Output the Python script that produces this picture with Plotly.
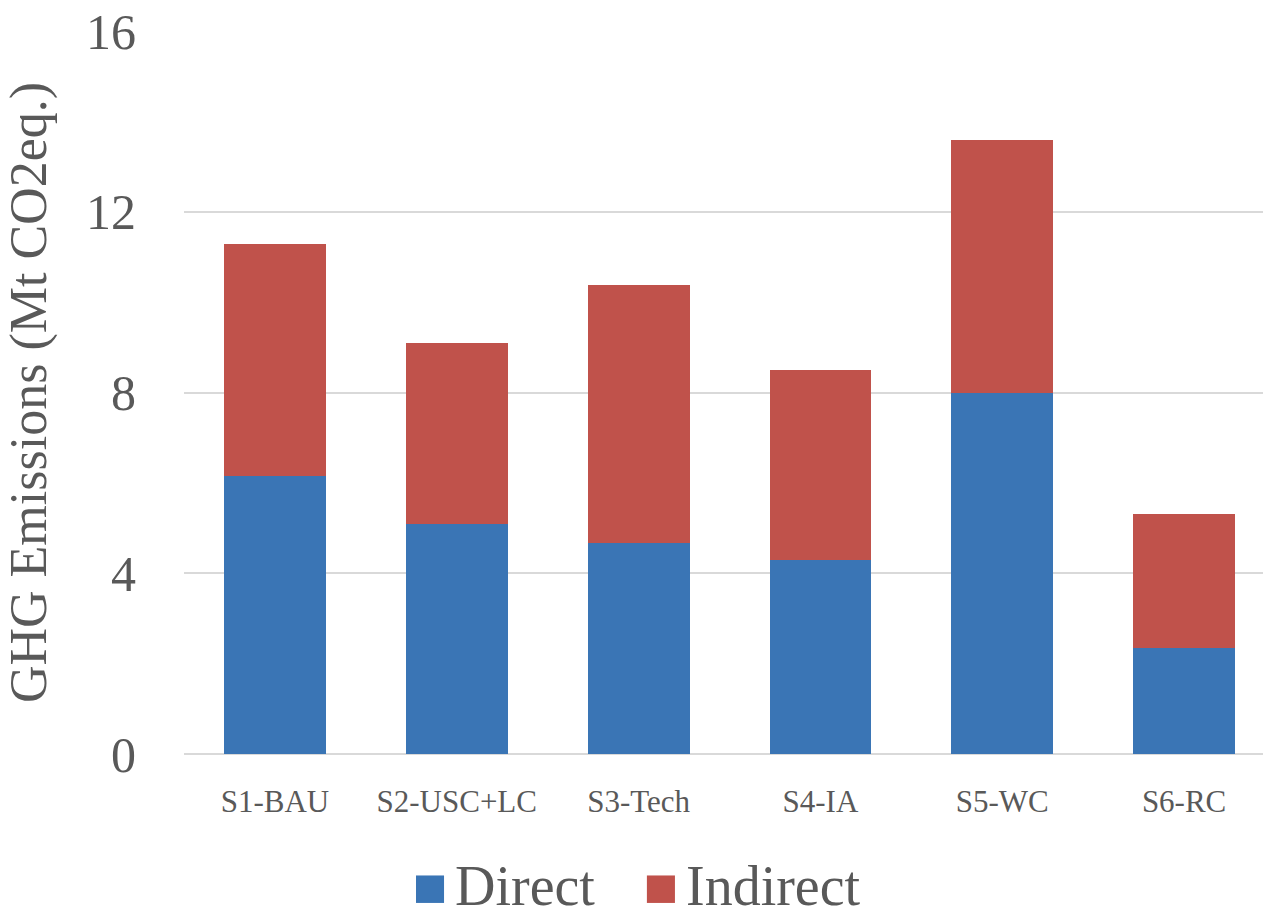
import plotly.graph_objects as go

scenarios = ["S1-BAU", "S2-USC+LC", "S3-Tech", "S4-IA", "S5-WC", "S6-RC"]
direct = [6.15, 5.10, 4.67, 4.30, 8.00, 2.35]
indirect = [5.14, 3.99, 5.71, 4.19, 5.58, 2.96]
y_ticks = [0, 4, 8, 12, 16]

BLUE = "#3A75B5"
RED = "#C0524B"
GRID = "#D9D9D9"
TEXT = "#595959"
FONT = "Liberation Serif"

fig = go.Figure()
fig.add_trace(go.Bar(x=scenarios, y=direct, name="Direct", marker_color=BLUE,
                     marker_line_width=0, showlegend=False))
fig.add_trace(go.Bar(x=scenarios, y=indirect, name="Indirect", marker_color=RED,
                     marker_line_width=0, showlegend=False))

# legend drawn as swatches + labels so the squares can be large
legend_items = [("Direct", BLUE, 0.215), ("Indirect", RED, 0.429)]
for label, color, x0 in legend_items:
    fig.add_shape(type="rect", xref="paper", yref="paper",
                  x0=x0, x1=x0 + 0.026, y0=-0.206, y1=-0.168,
                  fillcolor=color, line=dict(color=color, width=0))
    fig.add_annotation(text=label, xref="paper", yref="paper",
                       x=x0 + 0.034, y=-0.182, xanchor="left", yanchor="middle",
                       showarrow=False, font=dict(family=FONT, size=56, color=TEXT))

fig.update_layout(
    width=1263, height=920,
    margin=dict(l=184, r=0, t=31, b=166),
    paper_bgcolor="white", plot_bgcolor="white",
    barmode="stack", bargap=0.44,
    font=dict(family=FONT, color=TEXT),
)
fig.update_xaxes(
    range=[-0.5, 5.434],
    showgrid=False, showline=False, zeroline=False, ticks="",
    tickfont=dict(family=FONT, size=31, color=TEXT),
    ticklabelstandoff=26,
)
fig.update_yaxes(
    range=[0, 16], tickvals=y_ticks,
    showgrid=True, gridcolor=GRID, gridwidth=2,
    zeroline=True, zerolinecolor=GRID, zerolinewidth=2,
    showline=False, ticks="",
    tickfont=dict(family=FONT, size=50, color=TEXT),
    ticklabelstandoff=47,
    title=dict(text="GHG Emissions (Mt CO2eq.)", standoff=22,
               font=dict(family=FONT, size=52, color=TEXT)),
)

fig.write_html("out.html")
